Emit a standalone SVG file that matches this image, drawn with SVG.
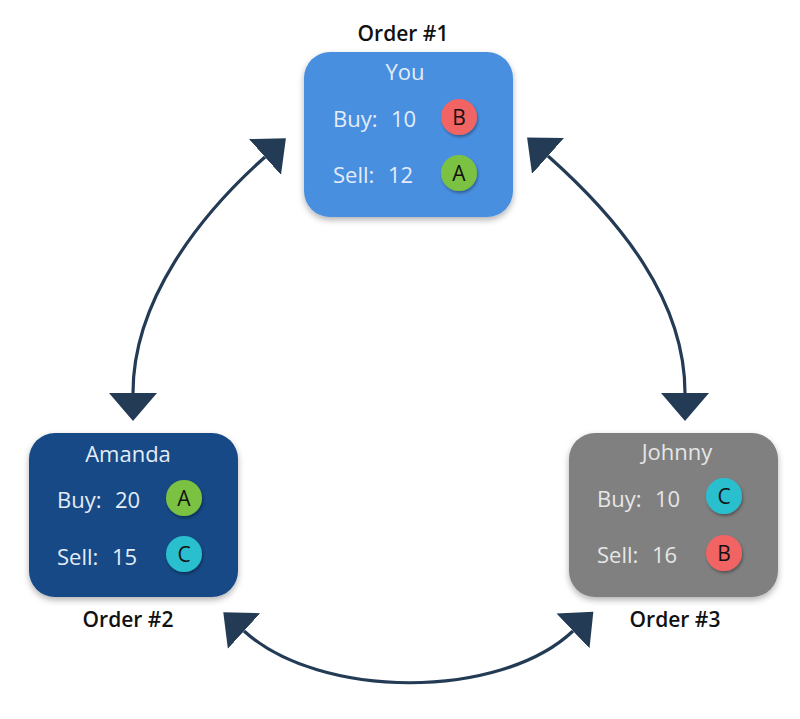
<svg xmlns="http://www.w3.org/2000/svg" width="800" height="719" viewBox="0 0 800 719">
<defs>
<filter id="sh" x="-20%" y="-20%" width="140%" height="150%">
<feDropShadow dx="0" dy="3" stdDeviation="3" flood-color="#000" flood-opacity="0.3"/>
</filter>
<filter id="csh" x="-40%" y="-40%" width="180%" height="180%">
<feDropShadow dx="1" dy="2" stdDeviation="1.5" flood-color="#000" flood-opacity="0.35"/>
</filter>
<marker id="ah" markerUnits="userSpaceOnUse" markerWidth="30" markerHeight="50" viewBox="0 0 30 50" refX="0" refY="25" orient="auto-start-reverse">
<path d="M0,1 L28,25 L0,49 Z" fill="#243b55"/>
</marker>
<style>
.title{font-family:"Open Sans","Noto Sans",sans-serif;font-size:21px;font-weight:600;fill:#111;text-anchor:middle}
.lbl{font-family:"Open Sans","Noto Sans",sans-serif;font-size:22px;fill:#e4ecf7}
.name{font-family:"Open Sans","Noto Sans",sans-serif;font-size:22px;fill:#e4ecf7;text-anchor:middle}
.gl{fill:#e6e6e6}
.ct{font-family:"Open Sans","Noto Sans",sans-serif;font-size:21px;font-weight:500;fill:#111;text-anchor:middle}
.arc{fill:none;stroke:#243b55;stroke-width:3.2;marker-start:url(#ah);marker-end:url(#ah)}
.red{fill:#f26464}
.green{fill:#7cc242}
.cyan{fill:#2bbfcf}
</style>
</defs>
<rect width="800" height="719" fill="#ffffff"/>
<g id="connectors">
<path class="arc" d="M133,393 C133,300 200,215 265,157"/>
<path class="arc" d="M548,156 C620,220 685,300 685,393"/>
<path class="arc" d="M244,631 C320,700 500,700 573,631"/>
</g>
<g id="order1">
<text class="title" x="403" y="41">Order #1</text>
<rect x="304" y="52" width="209" height="165" rx="26" fill="#4a8fe0" filter="url(#sh)"/>
<text class="name" x="405" y="80">You</text>
<text class="lbl" x="333" y="127">Buy:</text>
<text class="lbl" x="391" y="127">10</text>
<text class="lbl" x="333" y="183">Sell:</text>
<text class="lbl" x="388" y="183">12</text>
<circle cx="459" cy="117" r="18" class="red" filter="url(#csh)"/>
<text class="ct" x="459" y="124.5">B</text>
<circle cx="459" cy="173" r="18" class="green" filter="url(#csh)"/>
<text class="ct" x="459" y="180.5">A</text>
</g>
<g id="order2">
<rect x="29" y="433" width="209" height="164" rx="26" fill="#174a85" filter="url(#sh)"/>
<text class="name" x="128" y="462">Amanda</text>
<text class="lbl" x="57" y="508">Buy:</text>
<text class="lbl" x="115" y="508">20</text>
<text class="lbl" x="57" y="565">Sell:</text>
<text class="lbl" x="112" y="565">15</text>
<circle cx="184" cy="498" r="18" class="green" filter="url(#csh)"/>
<text class="ct" x="184" y="505.5">A</text>
<circle cx="184" cy="554" r="18" class="cyan" filter="url(#csh)"/>
<text class="ct" x="184" y="561.5">C</text>
<text class="title" x="128" y="627">Order #2</text>
</g>
<g id="order3">
<rect x="569" y="433" width="209" height="164" rx="26" fill="#808080" filter="url(#sh)"/>
<text class="name gl" x="677" y="460">Johnny</text>
<text class="lbl gl" x="597" y="507">Buy:</text>
<text class="lbl gl" x="655" y="507">10</text>
<text class="lbl gl" x="597" y="563">Sell:</text>
<text class="lbl gl" x="652" y="563">16</text>
<circle cx="724" cy="496" r="18" class="cyan" filter="url(#csh)"/>
<text class="ct" x="724" y="503.5">C</text>
<circle cx="724" cy="553" r="18" class="red" filter="url(#csh)"/>
<text class="ct" x="724" y="560.5">B</text>
<text class="title" x="675" y="627">Order #3</text>
</g>
</svg>
